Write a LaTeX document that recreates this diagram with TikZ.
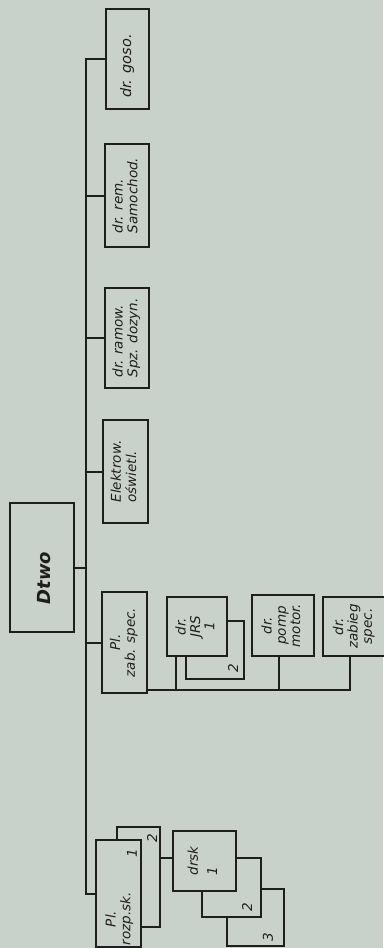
\documentclass[tikz,border=0pt]{standalone}
\usepackage{fontspec}
\setmainfont{DejaVu Sans}
\usetikzlibrary{calc}
\definecolor{paper}{HTML}{C9D2CA}
\definecolor{ink}{HTML}{1E1E1E}
\newcommand{\rotc}[1]{\rotatebox{90}{\begin{tabular}{@{}c@{}}#1\end{tabular}}}
\newcommand{\rotl}[1]{\rotatebox{90}{\begin{tabular}{@{}l@{}}#1\end{tabular}}}
\newcommand{\unitat}[6]{\node[unitbox, minimum width={#4pt-#2pt}, minimum height={#5pt-#3pt}] (#1) at ({(#2+#4)/2},{(#3+#5)/2}) {#6};}
\begin{document}
\begin{tikzpicture}[x=1pt,y=-1pt,
  unitbox/.style={draw=ink, line width=2pt, fill=paper, inner sep=0pt, text=ink, font=\fontsize{13.5}{15}\selectfont\itshape},
  wire/.style={draw=ink, line width=2pt},
  lbl/.style={inner sep=0pt, text=ink, font=\fontsize{13.5}{15}\selectfont\itshape}]
\renewcommand{\arraystretch}{0.95}
\fill[paper] (0,0) rectangle (383,948);
\useasboundingbox (0,0) rectangle (383,948);

% right-hand column
\unitat{gosp}{106}{9}{149}{109}{}
\node[lbl, font=\fontsize{14.5}{16}\selectfont\itshape] (gospt) at (127,66) {\rotatebox{90}{dr. goso.}};
\unitat{rem}{105}{144}{149}{247}{\rotl{dr. rem.\\Samochod.}}
\unitat{ramow}{105}{288}{149}{388}{\rotl{dr. ramow.\\Spz. dozyn.}}
\unitat{elek}{103}{420}{148}{523}{\rotl{Elektrow.\\oświetl.}}
\unitat{dtwo}{10}{503}{74}{632}{}
\node[lbl] (dtwot) at (44,578) {\rotatebox{90}{\fontsize{18}{20}\selectfont\bfseries\itshape Dtwo}};
\unitat{pzab}{102}{592}{147}{693}{\rotc{Pl.\\zab. spec.}}

% Pl. zab. spec. group
\unitat{jrsb}{186}{621}{244}{679}{}
\unitat{jrs}{167}{597}{227}{656}{\rotc{dr.\\JRS\\1}}
\unitat{pomp}{252}{595}{314}{656}{\rotc{dr.\\pomp\\motor.}}
\unitat{zab}{323}{597}{386}{656}{\rotc{dr.\\zabieg\\spec.}}
\node[lbl] (jrsn) at (233,668) {\rotatebox{90}{2}};

% Pl. rozp. sk. group
\unitat{rozpb}{117}{827}{160}{927}{}
\unitat{rozp}{96}{840}{141}{947}{}
\node[lbl] (rozpt) at (120,919) {\rotc{Pl.\\rozp.sk.}};
\node[lbl] (rozpn) at (132,853) {\rotatebox{90}{1}};
\node[lbl] (rozpbn) at (152,838) {\rotatebox{90}{2}};

\unitat{drskc}{227}{889}{284}{946}{}
\unitat{drskb}{202}{858}{261}{917}{}
\unitat{drsk}{173}{831}{236}{891}{\rotl{drsk\\[5pt]1}}
\node[lbl] (drskbn) at (247,907) {\rotatebox{90}{2}};
\node[lbl] (drskcn) at (268,937) {\rotatebox{90}{3}};

% connectors
\coordinate (T) at (86,0);
\draw[wire] (gosp.west) -| (T |- rozp.west) -- (rozp.west);
\draw[wire] (rem.west) -- (rem.west -| T);
\draw[wire] (ramow.west) -- (ramow.west -| T);
\draw[wire] (elek.west) -- (elek.west -| T);
\draw[wire] (dtwo.east) -- (dtwo.east -| T);
\draw[wire] (pzab.west) -- (pzab.west -| T);

\coordinate (bus) at (0,690);
\draw[wire] (pzab.east |- bus) -| ([xshift=-4.5pt]zab.south);
\draw[wire] ([xshift=10pt]jrs.south west) -- ([xshift=10pt]jrs.south west |- bus);
\draw[wire] ([xshift=-4pt]pomp.south) -- ([xshift=-4pt]pomp.south |- bus);

\coordinate (dk) at (0,858);
\draw[wire] (rozpb.east |- dk) -- (drsk.west |- dk);
\end{tikzpicture}
\end{document}
